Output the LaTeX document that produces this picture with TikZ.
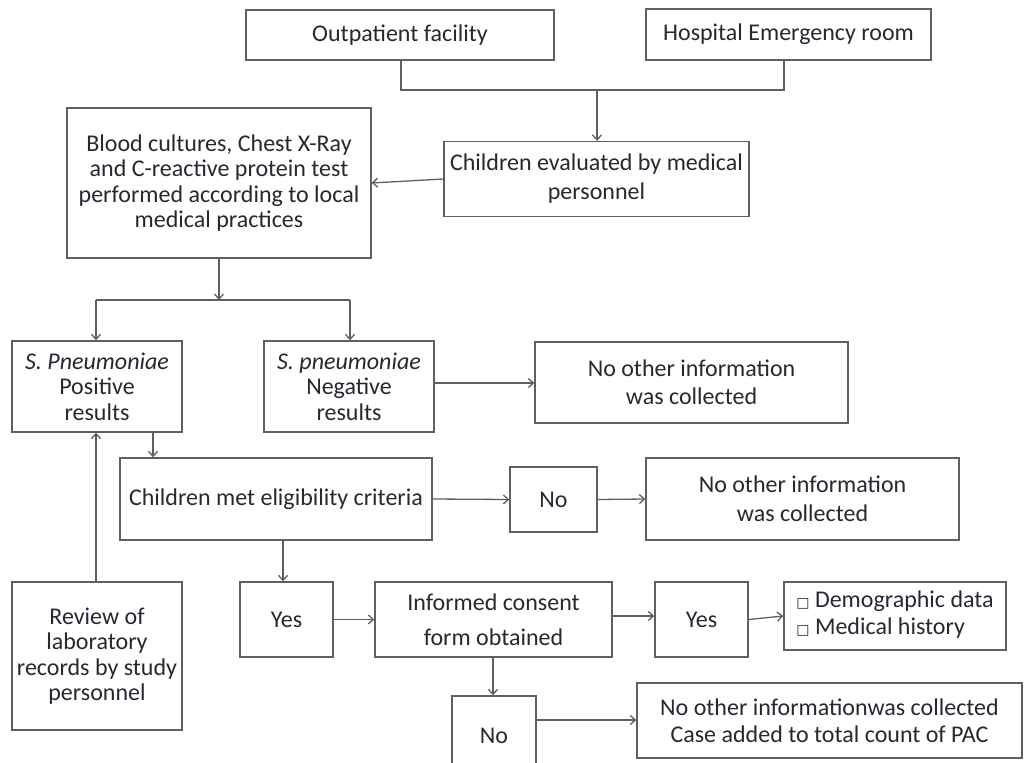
\documentclass[tikz,border=0pt]{standalone}
\usepackage{fontspec}
\setmainfont{Carlito}
\newfontfamily\symfont{DejaVu Sans}
\usetikzlibrary{arrows.meta}
\definecolor{linec}{RGB}{95,95,95}
\definecolor{txtc}{RGB}{40,40,50}
\newcommand{\cbox}{{\symfont\fontsize{14}{14}\selectfont □}}
\begin{document}
\begin{tikzpicture}[x=1pt,y=-1pt,
  bx/.style={draw=linec, line width=1.4pt, align=center, inner sep=0pt, text=txtc,
    font=\fontsize{24}{25.5}\selectfont},
  lsp/.style={font=\fontsize{24}{#1}\selectfont},
  arr/.style={draw=linec, line width=1.3pt, -{Straight Barb[length=5pt,width=9pt]}},
  ln/.style={draw=linec, line width=1.3pt}]
\clip (0,0) rectangle (1024,762);
\fill[white] (0,0) rectangle (1024,762);
% nodes
\node[bx, minimum width=308pt, minimum height=50pt] (op) at (400,35) {Outpatient facility};
\node[bx, minimum width=285pt, minimum height=51pt] (er) at (788.5,34.5) {Hospital Emergency room};
\node[bx, lsp=29pt, minimum width=305pt, minimum height=75pt] (ce) at (596.5,179) {Children evaluated by medical\\personnel};
\node[bx, minimum width=304pt, minimum height=150pt] (bc) at (219,183) {Blood cultures, Chest X-Ray\\and C-reactive protein test\\performed according to local\\medical practices};
\node[bx, minimum width=170pt, minimum height=91pt] (pos) at (97,386.5) {\textit{S. Pneumoniae}\\Positive\\results};
\node[bx, minimum width=170pt, minimum height=91pt] (neg) at (349,386.5) {\textit{S. pneumoniae}\\Negative\\results};
\node[bx, lsp=28.5pt, minimum width=313pt, minimum height=81pt] (ni1) at (691.5,382.5) {No other information\\was collected};
\node[bx, minimum width=312pt, minimum height=82pt] (cm) at (276,499) {Children met eligibility criteria};
\node[bx, minimum width=87pt, minimum height=65pt] (no1) at (553.5,499.5) {No};
\node[bx, lsp=28.5pt, minimum width=313pt, minimum height=82pt] (ni2) at (802.5,499) {No other information\\was collected};
\node[bx, minimum width=93pt, minimum height=75pt] (yes1) at (286.5,619.5) {Yes};
\node[bx, lsp=35pt, minimum width=237pt, minimum height=75pt] (ic) at (493.5,619.5) {Informed consent\\form obtained};
\node[bx, minimum width=93pt, minimum height=75pt] (yes2) at (701.5,619.5) {Yes};
\node[bx, minimum width=222pt, minimum height=68pt] (chk) at (895,616) {\begin{tabular}{@{}l@{}}\cbox\ Demographic data\\[1.5pt]\cbox\ Medical history\end{tabular}};
\node[bx, minimum width=84pt, minimum height=80pt] (no2) at (494,736) {No};
\node[bx, lsp=27pt, minimum width=385pt, minimum height=75pt] (fin) at (829.5,720.5) {No other informationwas collected\\Case added to total count of PAC};
\node[bx, minimum width=170pt, minimum height=148pt] (rev) at (97,656) {Review of\\laboratory\\records by study\\personnel};
% connectors
\coordinate (j1) at (401,90);
\coordinate (j2) at (784,90);
\coordinate (jm) at (597,90);
\draw[ln] (op.south -| j1) -- (j1) -- (j2) -- (er.south -| j2);
\draw[arr] (jm) -- (ce.north -| jm);
\draw[arr] (ce.west) -- (bc.east);
\coordinate (b1) at (219,300);
\coordinate (bl) at (96,300);
\coordinate (br) at (350,300);
\draw[arr] (bc.south -| b1) -- (b1);
\draw[ln] (bl) -- (br);
\draw[arr] (bl) -- (pos.north -| bl);
\draw[arr] (br) -- (neg.north -| br);
\coordinate (n1) at (0,383);
\draw[arr] (neg.east |- n1) -- (ni1.west |- n1);
\coordinate (p1) at (153,0);
\draw[arr] (pos.south -| p1) -- (cm.north -| p1);
\draw[arr] (cm.east) -- (no1.west);
\draw[arr] (no1.east) -- (ni2.west);
\coordinate (c1) at (283,0);
\draw[arr] (cm.south -| c1) -- (yes1.north -| c1);
\draw[arr] (yes1.east) -- (ic.west);
\coordinate (k1) at (0,616);
\draw[arr] (ic.east |- k1) -- (yes2.west |- k1);
\draw[arr] (yes2.east) -- (chk.west);
\coordinate (i1) at (493,0);
\draw[arr] (ic.south -| i1) -- (no2.north -| i1);
\coordinate (n2) at (0,720);
\draw[arr] (no2.east |- n2) -- (fin.west |- n2);
\coordinate (r1) at (96,0);
\draw[arr] (rev.north -| r1) -- (pos.south -| r1);
\end{tikzpicture}
\end{document}
